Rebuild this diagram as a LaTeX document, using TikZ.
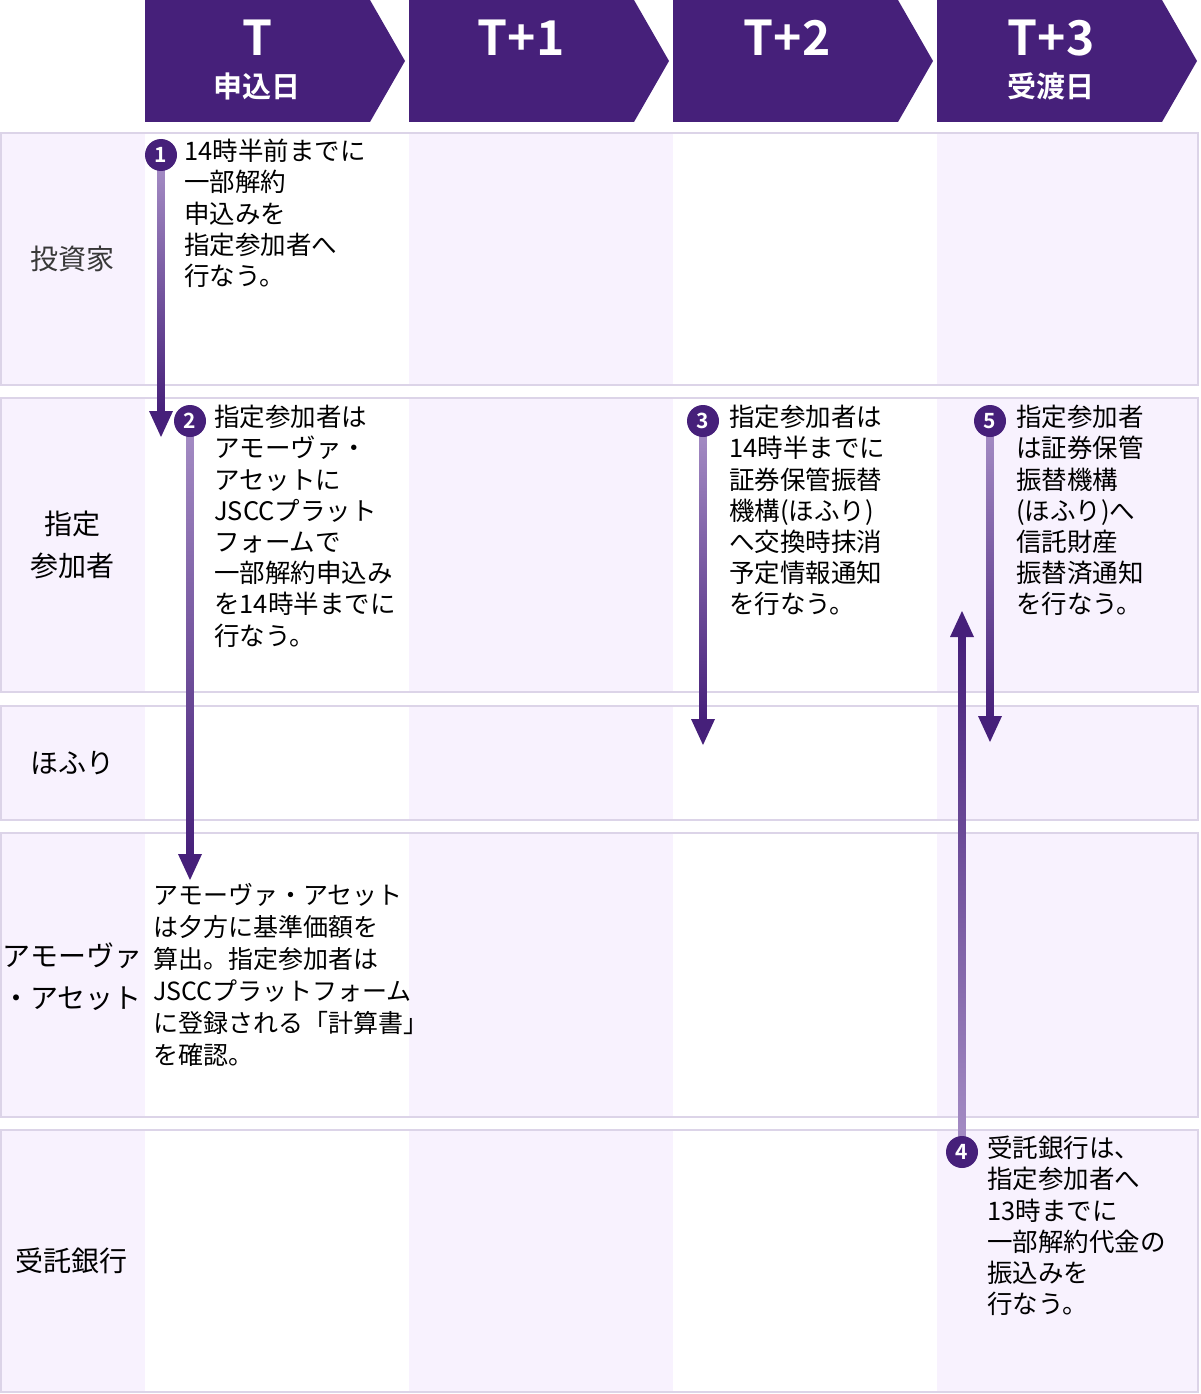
\documentclass[tikz,border=0pt]{standalone}
\usepackage{fontspec}
\setmainfont{Noto Sans CJK JP}[BoldFont={* Bold}]
\begin{document}
\begin{tikzpicture}[x=1pt,y=-1pt,
  txt/.style={anchor=north west,align=left,inner sep=0,font=\fontsize{25.5}{31.2}\selectfont,text=black},
  lbl/.style={align=center,inner sep=0,font=\fontsize{28}{42}\selectfont,text=black!78},
  num/.style={circle,fill=hdrc,text=white,inner sep=0,minimum size=32,font=\bfseries\fontsize{21}{21}\selectfont}]
\definecolor{hdrc}{HTML}{46207A}
\definecolor{lav}{HTML}{F8F2FE}
\definecolor{bord}{HTML}{DCD4E8}
\definecolor{lightarr}{HTML}{A48CC4}
\useasboundingbox (0,0) rectangle (1200,1394);
% headers
\foreach \x in {145,409,673,937}{
  \fill[hdrc] (\x,0) -- (\x+225,0) -- (\x+260,61) -- (\x+225,122) -- (\x,122) -- cycle;}
\node[text=white,font=\bfseries\fontsize{48}{48}\selectfont] (h0) at (257,38) {T};
\node[text=white,font=\bfseries\fontsize{29}{29}\selectfont] (h0b) at (257,86) {申込日};
\node[text=white,font=\bfseries\fontsize{48}{48}\selectfont] (h1) at (521,38) {T+1};
\node[text=white,font=\bfseries\fontsize{48}{48}\selectfont] (h2) at (787,38) {T+2};
\node[text=white,font=\bfseries\fontsize{48}{48}\selectfont] (h3) at (1051,38) {T+3};
\node[text=white,font=\bfseries\fontsize{29}{29}\selectfont] (h3b) at (1051,86) {受渡日};
% rows
\foreach \a/\b in {133/385,398/692,706/820,833/1117,1130/1392}{
  \fill[lav] (1,\a) rectangle (145,\b);
  \fill[white] (145,\a) rectangle (409,\b);
  \fill[lav] (409,\a) rectangle (673,\b);
  \fill[white] (673,\a) rectangle (937,\b);
  \fill[lav] (937,\a) rectangle (1198,\b);
  \draw[bord,line width=2] (1,\a) rectangle (1198,\b);}
\node[lbl] (r1) at (72,259) {投資家};
\node[lbl,text=black] (r2) at (72,545) {指定\\参加者};
\node[lbl,text=black] (r3) at (72,763) {ほふり};
\node[lbl,text=black] (r4) at (72,977) {アモーヴァ\\・アセット};
\node[lbl,text=black] (r5) at (72,1261) {受託銀行};
% arrows
\newcommand{\varr}[4]{% x, y-from, y-tip, direction(1 down,0 up)
  \ifnum#4=1
    \shade[top color=lightarr,bottom color=hdrc] (#1-3.5,#2) rectangle (#1+3.5,#3-24);
    \fill[hdrc] (#1-12,#3-26) -- (#1+12,#3-26) -- (#1,#3) -- cycle;
  \else
    \shade[top color=hdrc,bottom color=lightarr] (#1-3.5,#3+24) rectangle (#1+3.5,#2);
    \fill[hdrc] (#1-12,#3+26) -- (#1+12,#3+26) -- (#1,#3) -- cycle;
  \fi}
\varr{161}{165}{437}{1}
\varr{190}{430}{880}{1}
\varr{703}{430}{745}{1}
\varr{990}{430}{742}{1}
\varr{962}{1140}{611}{0}
\node[num] (n1) at (161,155) {1};
\node[num] (n2) at (190,421) {2};
\node[num] (n3) at (703,421) {3};
\node[num] (n5) at (990,421) {5};
\node[num] (n4) at (962,1152) {4};
% texts
\node[txt] (t1) at (184,139) {14時半前までに\\一部解約\\申込みを\\指定参加者へ\\行なう。};
\node[txt] (t2) at (214,405) {指定参加者は\\アモーヴァ・\\アセットに\\JSCCプラット\\フォームで\\一部解約申込み\\を14時半までに\\行なう。};
\node[txt] (t3) at (729,405) {指定参加者は\\14時半までに\\証券保管振替\\機構(ほふり)\\へ交換時抹消\\予定情報通知\\を行なう。};
\node[txt] (t5) at (1016,405) {指定参加者\\は証券保管\\振替機構\\(ほふり)へ\\信託財産\\振替済通知\\を行なう。};
\node[txt,font=\fontsize{25}{32}\selectfont] (t6) at (153,883) {アモーヴァ・アセット\\は夕方に基準価額を\\算出。指定参加者は\\JSCCプラットフォーム\\に登録される「計算書」\\を確認。};
\node[txt] (t4) at (987,1136) {受託銀行は、\\指定参加者へ\\13時までに\\一部解約代金の\\振込みを\\行なう。};
\end{tikzpicture}
\end{document}
